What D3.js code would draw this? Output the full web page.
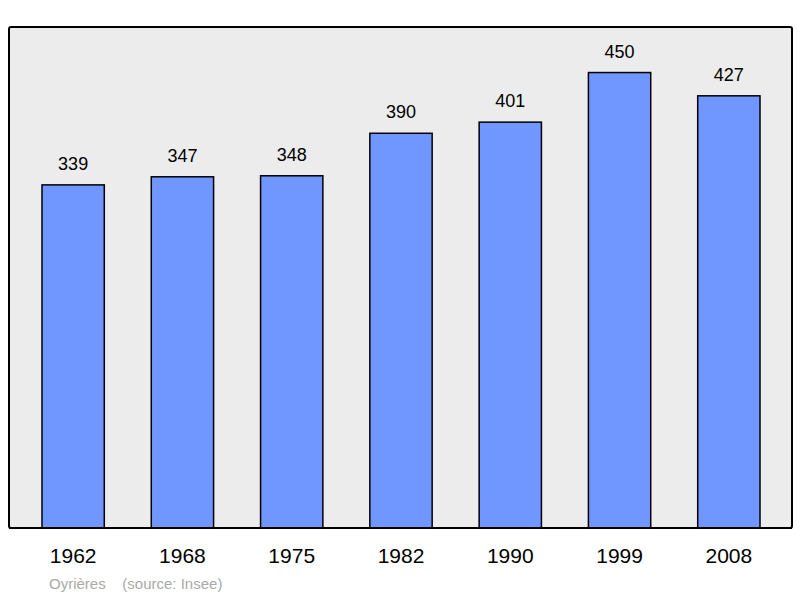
<!DOCTYPE html>
<html><head><meta charset="utf-8">
<script src="https://cdn.jsdelivr.net/npm/d3@7"></script>
<style>body{margin:0;background:#fff}</style></head>
<body><svg id="c" width="800" height="598"></svg>
<script>
const years = ["1962","1968","1975","1982","1990","1999","2008"];
const population = [339,347,348,390,401,450,427];
const svg = d3.select("#c");
const topY = 27, base = 528;
svg.append("rect").attr("x",9).attr("y",topY).attr("width",783).attr("height",base-topY)
  .attr("fill","#ececec").attr("stroke","#000").attr("stroke-width",2).attr("rx",2);
const x = d3.scaleBand().domain(years).range([18.5,783.5]).paddingInner(0.43).paddingOuter(0.215);
const y = d3.scaleLinear().domain([0,495]).range([base,topY]);
const g = svg.append("g");
years.forEach((yr,i)=>{
  const v = population[i];
  g.append("rect").attr("x",x(yr)).attr("y",y(v)).attr("width",x.bandwidth()).attr("height",base-y(v))
    .attr("fill","#7097ff").attr("stroke","#000").attr("stroke-width",1.5);
  g.append("text").attr("x",x(yr)+x.bandwidth()/2).attr("y",y(v)-15).attr("text-anchor","middle")
    .attr("font-family","Liberation Sans, Arial, sans-serif").attr("font-size",18).text(v);
  g.append("text").attr("x",x(yr)+x.bandwidth()/2).attr("y",563).attr("text-anchor","middle")
    .attr("font-family","Liberation Sans, Arial, sans-serif").attr("font-size",21).text(yr);
});
svg.append("line").attr("x1",9).attr("x2",792).attr("y1",base).attr("y2",base).attr("stroke","#000").attr("stroke-width",2);
svg.append("text").attr("x",49).attr("y",589).attr("font-family","Liberation Sans, Arial, sans-serif")
  .attr("font-size",15).attr("fill","#aaa").attr("xml:space","preserve").text("Oyrières    (source: Insee)");
</script></body></html>
